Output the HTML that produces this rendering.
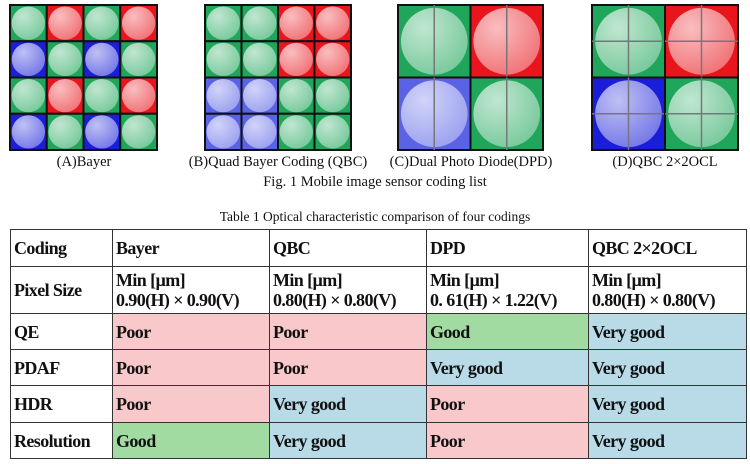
<!DOCTYPE html>
<html><head><meta charset="utf-8"><style>
body{margin:0;width:750px;height:464px;background:#fff;position:relative;overflow:hidden;font-family:"Liberation Serif",serif;}
.cap{position:absolute;font-size:14.5px;color:#111;white-space:nowrap;transform:translateX(-50%);}
.cell{position:absolute;box-sizing:border-box;font-weight:bold;font-size:18px;color:#111;padding-left:3px;display:flex;align-items:center;line-height:20px;letter-spacing:-0.6px;}
</style></head><body>
<svg id="figs" width="750" height="160" style="position:absolute;left:0;top:0">
<defs>
<radialGradient id="gl" cx="35%" cy="30%" r="75%"><stop offset="0" stop-color="#fff" stop-opacity="0.72"/><stop offset="1" stop-color="#fff" stop-opacity="0.4"/></radialGradient>
</defs>
</svg>
<div class="cap" style="left:84px;top:154px">(A)Bayer</div>
<div class="cap" style="left:278px;top:154px">(B)Quad Bayer Coding (QBC)</div>
<div class="cap" style="left:471px;top:154px">(C)Dual Photo Diode(DPD)</div>
<div class="cap" style="left:665px;top:154px">(D)QBC 2×2OCL</div>
<div class="cap" style="left:375px;top:174px">Fig. 1 Mobile image sensor coding list</div>
<div class="cap" style="left:375px;top:209px;font-size:13.5px">Table 1 Optical characteristic comparison of four codings</div>
<div id="tbl"></div>
<script>
const svg=document.getElementById('figs');const NS='http://www.w3.org/2000/svg';
const C={g:'#1fa65a',r:'#e8151c',b:'#1a1ed8',B:'#5a63e6'};
function el(t,a){const e=document.createElementNS(NS,t);for(const k in a)e.setAttribute(k,a[k]);svg.appendChild(e);return e;}
function grid(x0,y0,w,h,map,n,split){
  const cw=w/n,ch=h/n;
  for(let i=0;i<n;i++)for(let j=0;j<n;j++){
    const c=map[i][j];
    el('rect',{x:x0+j*cw,y:y0+i*ch,width:cw,height:ch,fill:C[c],stroke:'#111',"stroke-width":2});
    el('circle',{cx:x0+j*cw+cw/2,cy:y0+i*ch+ch/2,r:Math.min(cw,ch)*0.46,fill:'url(#gl)'});
    if(split){
      el('line',{x1:x0+j*cw+cw/2,y1:y0+i*ch,x2:x0+j*cw+cw/2,y2:y0+i*ch+ch,stroke:'#777',"stroke-width":1.5});
      if(split==2)el('line',{x1:x0+j*cw,y1:y0+i*ch+ch/2,x2:x0+j*cw+cw,y2:y0+i*ch+ch/2,stroke:'#777',"stroke-width":1.5});
    }
  }
}
grid(10,5,147,145,['grgr','bgbg','grgr','bgbg'],4,0);
grid(205,5,146,145,['ggrr','ggrr','BBgg','BBgg'],4,0);
grid(398,5,145,145,['gr','Bg'],2,1);
grid(592,5,146,145,['gr','bg'],2,2);
svg.querySelectorAll('*').forEach(e=>{if(e.tagName!=='defs'&&e.parentNode===svg){}});

const cols=[10,112,269,426,588,746];
const rows=[229,266,313,349,385,422,458];
const header=['Coding','Bayer','QBC','DPD','QBC 2×2OCL'];
const sizes=['Pixel Size','Min [µm]<br>0.90(H) × 0.90(V)','Min [µm]<br>0.80(H) × 0.80(V)','Min [µm]<br>0. 61(H) × 1.22(V)','Min [µm]<br>0.80(H) × 0.80(V)'];
const body=[['QE','Poor','Poor','Good','Very good'],['PDAF','Poor','Poor','Very good','Very good'],['HDR','Poor','Very good','Poor','Very good'],['Resolution','Good','Very good','Poor','Very good']];
const bg={'Poor':'#f9c8ca','Good':'#a2dba2','Very good':'#b9dbe8'};
const tbl=document.getElementById('tbl');
const all=[header,sizes,...body];
all.forEach((r,i)=>r.forEach((t,j)=>{
  const d=document.createElement('div');d.className='cell';
  d.style.left=cols[j]+'px';d.style.top=rows[i]+'px';
  d.style.width=(cols[j+1]-cols[j]+1)+'px';d.style.height=(rows[i+1]-rows[i]+1)+'px';
  d.style.border='1.5px solid #333';
  d.style.background=(i>=2&&j>0)?bg[t]:'#fff';
  d.innerHTML=t;
  
  
  tbl.appendChild(d);
}));
</script>
</body></html>
